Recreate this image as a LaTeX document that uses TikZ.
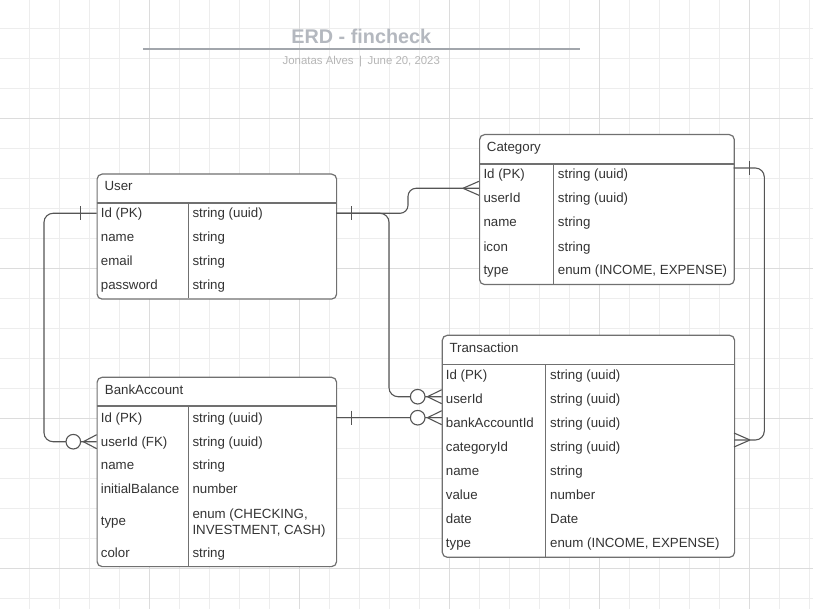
\documentclass[tikz,border=0pt]{standalone}
\usepackage{fontspec}
\setmainfont{Liberation Sans}
\definecolor{gridminor}{HTML}{EDEDED}
\definecolor{gridmajor}{HTML}{DCDCDC}
\definecolor{tabborder}{HTML}{707070}
\definecolor{conn}{HTML}{555555}
\definecolor{txt}{HTML}{333333}
\definecolor{titlec}{HTML}{B4B8BF}
\definecolor{titleline}{HTML}{A2A6AC}
\definecolor{subc}{HTML}{B6B6B6}
\begin{document}
\begin{tikzpicture}[x=1pt,y=-1pt,
  gminor/.style={draw=gridminor,line width=0.8pt},
  gmajor/.style={draw=gridmajor,line width=0.8pt},
  tablebox/.style={draw=tabborder,fill=white,line width=1.2pt,rounded corners=5pt,anchor=north west,inner sep=0pt,minimum width=#1},
  tabline/.style={draw=tabborder,line width=1.2pt},
  cell/.style={anchor=base west,inner sep=0pt,text=txt,font=\fontsize{13.3}{16}\selectfont},
  wire/.style={draw=conn,line width=1.1pt,rounded corners=9pt},
  tick/.style={draw=conn,line width=1.1pt},
  zerocircle/.style={draw=conn,fill=white,line width=1.1pt,circle,minimum size=14.6pt,inner sep=0pt},
]
\useasboundingbox (0,0) rectangle (813,609);
\fill[white] (0,0) rectangle (813,609);
% grid
\foreach \i in {0,...,26} {\draw[gminor] ({29.5+30*\i},0) -- ({29.5+30*\i},609);}
\foreach \j in {0,...,19} {\draw[gminor] (0,{28.3+30*\j}) -- (813,{28.3+30*\j});}
\foreach \i in {4,9,14,19,24} {\draw[gmajor] ({29.5+30*\i},0) -- ({29.5+30*\i},609);}
\foreach \j in {3,8,13,18} {\draw[gmajor] (0,{28.3+30*\j}) -- (813,{28.3+30*\j});}

% title
\node[anchor=base,inner sep=0pt,text=titlec,font=\bfseries\fontsize{19.8}{22}\selectfont] (title) at (361.3,43.3) {ERD - fincheck};
\coordinate (tl1) at (143.3,49.2);
\coordinate (tl2) at (580,49.2);
\draw[draw=titleline,line width=1.5pt] (tl1) -- (tl2);
\node[anchor=base,inner sep=0pt,text=subc,font=\fontsize{11.4}{13}\selectfont] (subtitle) at (361.3,65) {Jonatas Alves\hspace{5.5pt}|\hspace{5.5pt}June 20, 2023};

% ---------- User ----------
\node[tablebox=239.5pt,minimum height=125pt] (user) at (96.5,173.5) {};
\draw[tabline] (96.5,203) -- (336,203);
\draw[tabline] (188.3,203) -- (188.3,298.5);
\node[cell] (uh) at (104.3,190.5) {User};
\node[cell] (u1a) at (100.7,218) {Id (PK)};
\node[cell] (u1b) at (192.3,218) {string (uuid)};
\node[cell] (u2a) at (100.7,241.5) {name};
\node[cell] (u2b) at (192.3,241.5) {string};
\node[cell] (u3a) at (100.7,265.8) {email};
\node[cell] (u3b) at (192.3,265.8) {string};
\node[cell] (u4a) at (100.7,289.8) {password};
\node[cell] (u4b) at (192.3,289.8) {string};

% ---------- Category ----------
\node[tablebox=254.7pt,minimum height=150pt] (category) at (479,134) {};
\draw[tabline] (479,164) -- (733.7,164);
\draw[tabline] (553.3,164) -- (553.3,284);
\node[cell] (ch) at (486.7,152) {Category};
\node[cell] (c1a) at (483.3,179) {Id (PK)};
\node[cell] (c1b) at (557.7,179) {string (uuid)};
\node[cell] (c2a) at (483.3,203) {userId};
\node[cell] (c2b) at (557.7,203) {string (uuid)};
\node[cell] (c3a) at (483.3,226.8) {name};
\node[cell] (c3b) at (557.7,226.8) {string};
\node[cell] (c4a) at (483.3,251.4) {icon};
\node[cell] (c4b) at (557.7,251.4) {string};
\node[cell] (c5a) at (483.3,274.8) {type};
\node[cell] (c5b) at (557.7,274.8) {enum (INCOME, EXPENSE)};

% ---------- BankAccount ----------
\node[tablebox=239.5pt,minimum height=189.3pt] (bank) at (96.5,376.7) {};
\draw[tabline] (96.5,406) -- (336,406);
\draw[tabline] (188.3,406) -- (188.3,566);
\node[cell] (bh) at (104.7,394.8) {BankAccount};
\node[cell] (b1a) at (100.7,422) {Id (PK)};
\node[cell] (b1b) at (192.3,422) {string (uuid)};
\node[cell] (b2a) at (100.7,446.5) {userId (FK)};
\node[cell] (b2b) at (192.3,446.5) {string (uuid)};
\node[cell] (b3a) at (100.7,469.8) {name};
\node[cell] (b3b) at (192.3,469.8) {string};
\node[cell] (b4a) at (100.7,493) {initialBalance};
\node[cell] (b4b) at (192.3,493) {number};
\node[cell] (b5a) at (100.7,525.8) {type};
\node[cell] (b5b) at (192.3,518) {enum (CHECKING,};
\node[cell] (b5c) at (192.3,534) {INVESTMENT, CASH)};
\node[cell] (b6a) at (100.7,557) {color};
\node[cell] (b6b) at (192.3,557) {string};

% ---------- Transaction ----------
\node[tablebox=292.3pt,minimum height=222pt] (trans) at (441.7,334.7) {};
\draw[tabline] (441.7,364.3) -- (734,364.3);
\draw[tabline] (545.7,364.3) -- (545.7,556.7);
\node[cell] (th) at (449.3,352) {Transaction};
\node[cell] (t1a) at (445.7,379.8) {Id (PK)};
\node[cell] (t1b) at (550,379.8) {string (uuid)};
\node[cell] (t2a) at (445.7,403.8) {userId};
\node[cell] (t2b) at (550,403.8) {string (uuid)};
\node[cell] (t3a) at (445.7,427) {bankAccountId};
\node[cell] (t3b) at (550,427) {string (uuid)};
\node[cell] (t4a) at (445.7,451.5) {categoryId};
\node[cell] (t4b) at (550,451.5) {string (uuid)};
\node[cell] (t5a) at (445.7,475) {name};
\node[cell] (t5b) at (550,475) {string};
\node[cell] (t6a) at (445.7,499.5) {value};
\node[cell] (t6b) at (550,499.5) {number};
\node[cell] (t7a) at (445.7,523.8) {date};
\node[cell] (t7b) at (550,523.8) {Date};
\node[cell] (t8a) at (445.7,547.5) {type};
\node[cell] (t8b) at (550,547.5) {enum (INCOME, EXPENSE)};

% ---------- connection points ----------
\coordinate (userL) at (96.5,213.3);
\coordinate (userR) at (336,213.3);
\coordinate (bankUserL) at (96.7,441.7);
\coordinate (bankR) at (336,417.7);
\coordinate (catUserL) at (479,188.3);
\coordinate (catR) at (733.7,168);
\coordinate (transUserL) at (441.7,396.7);
\coordinate (transBankL) at (441.7,417.7);
\coordinate (transCatR) at (734,440);

% User -- BankAccount
\draw[wire] (userL) -- (44,213.3) -- (44,441.7) -- (bankUserL);
\draw[tick] (80.7,206.3) -- (80.7,220.3);
\draw[tick] (83.3,441.7) -- (96.7,434.7) (83.3,441.7) -- (96.7,448.7);
\node[zerocircle] (z1) at (73.3,441.7) {};

% User -- Transaction
\draw[wire] (userR) -- (389,213.3) -- (389,396.7) -- (transUserL);
\draw[tick] (351.7,206.3) -- (351.7,220.3);
\draw[tick] (427.5,396.7) -- (441.7,389.7) (427.5,396.7) -- (441.7,403.7);
\node[zerocircle] (z2) at (417.7,396.7) {};

% User -- Category
\draw[wire,rounded corners=8pt] (userR) -- (408,213.3) -- (408,188.3) -- (catUserL);
\draw[tick] (463,188.3) -- (479,181.3) (463,188.3) -- (479,195.3);

% BankAccount -- Transaction
\draw[wire] (bankR) -- (transBankL);
\draw[tick] (351.7,410.7) -- (351.7,424.7);
\draw[tick] (427.5,417.7) -- (441.7,410.7) (427.5,417.7) -- (441.7,424.7);
\node[zerocircle] (z3) at (417.7,417.7) {};

% Category -- Transaction
\draw[wire] (catR) -- (764.3,168) -- (764.3,440) -- (transCatR);
\draw[tick] (749.3,161) -- (749.3,175);
\draw[tick] (750,440) -- (734,433) (750,440) -- (734,447);
\end{tikzpicture}
\end{document}
